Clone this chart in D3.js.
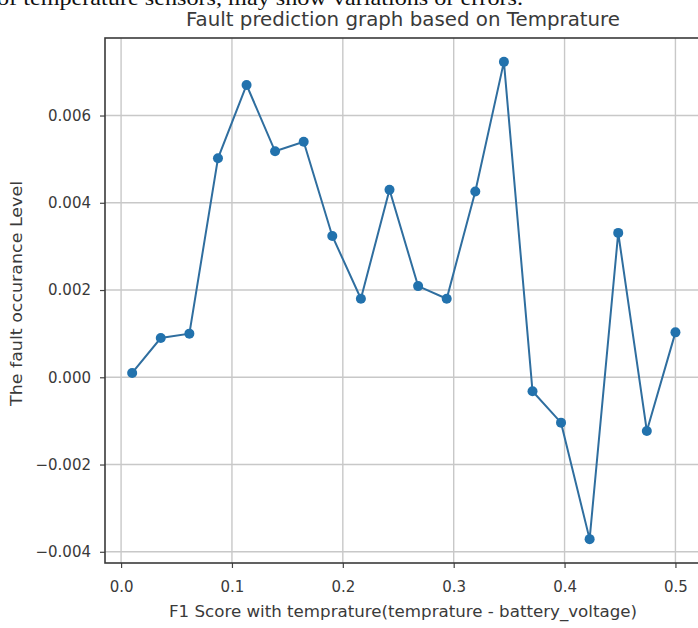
<!DOCTYPE html>
<html>
<head>
<meta charset="utf-8">
<script src="https://cdn.jsdelivr.net/npm/d3@7"></script>
<style>
  html, body { margin: 0; padding: 0; background: #fff; overflow: hidden; }
  svg { display: block; }
</style>
</head>
<body>
<svg id="chart" width="698" height="628"></svg>
<script>
// ---- data ----
const xValues = [0.01, 0.0358, 0.0616, 0.0874, 0.1132, 0.1389, 0.1647, 0.1905, 0.2163, 0.2421,
                 0.2679, 0.2937, 0.3195, 0.3453, 0.3711, 0.3968, 0.4226, 0.4484, 0.4742, 0.5];
const faultLevel = [0.0001, 0.0009, 0.0010, 0.00502, 0.0067, 0.00518, 0.0054, 0.00324, 0.0018, 0.0043,
                    0.00209, 0.0018, 0.00426, 0.00723, -0.00032, -0.00104, -0.00371, 0.00331, -0.00123, 0.00103];
const xTicks = [0.0, 0.1, 0.2, 0.3, 0.4, 0.5];
const yTicks = [-0.004, -0.002, 0.000, 0.002, 0.004, 0.006];
const titleText = "Fault prediction graph based on Temprature";
const xLabelText = "F1 Score with temprature(temprature - battery_voltage)";
const yLabelText = "The fault occurance Level";
const topCaption = "of temperature sensors, may show variations or errors.";

// ---- layout ----
const plot = { left: 105, top: 38, right: 702.6, bottom: 563 };
const svg = d3.select("#chart");

// matplotlib-like 5% margins
function padDomain(vals) {
  const [a, b] = d3.extent(vals);
  const m = (b - a) * 0.05;
  return [a - m, b + m];
}
const x = d3.scaleLinear().domain(padDomain(xValues)).range([plot.left, plot.right]);
const y = d3.scaleLinear().domain(padDomain(faultLevel)).range([plot.bottom, plot.top]);

const fontSans = "'DejaVu Sans', sans-serif";
const textColor = "#3a3a3a";

// cut-off caption from surrounding document
svg.append("text")
  .attr("x", -3).attr("y", 4.5)
  .attr("font-family", "'Liberation Serif', serif")
  .attr("font-size", 21)
  .attr("fill", "#111")
  .attr("textLength", 526).attr("lengthAdjust", "spacingAndGlyphs")
  .text(topCaption);

// grid
const grid = svg.append("g").attr("stroke", "#c8c8c8").attr("stroke-width", 1.4);
grid.selectAll("line.gx").data(xTicks).join("line")
  .attr("x1", d => x(d)).attr("x2", d => x(d))
  .attr("y1", plot.top).attr("y2", plot.bottom);
grid.selectAll("line.gy").data(yTicks).join("line")
  .attr("y1", d => y(d)).attr("y2", d => y(d))
  .attr("x1", plot.left).attr("x2", plot.right);

// axes
const fmtY = v => d3.format(".3f")(v).replace("-", "\u2212");
const xAxis = d3.axisBottom(x).tickValues(xTicks).tickFormat(d3.format(".1f")).tickSize(5).tickPadding(13);
const yAxis = d3.axisLeft(y).tickValues(yTicks).tickFormat(fmtY).tickSize(5).tickPadding(9);

const gx = svg.append("g").attr("transform", `translate(0,${plot.bottom})`).call(xAxis);
const gy = svg.append("g").attr("transform", `translate(${plot.left},0)`).call(yAxis);
[gx, gy].forEach(g => {
  g.select(".domain").remove();
  g.selectAll(".tick line").attr("stroke", "#444").attr("stroke-width", 1.2);
  g.selectAll(".tick text").attr("font-family", fontSans).attr("font-size", 15).attr("fill", textColor);
});

// frame
svg.append("rect")
  .attr("x", plot.left).attr("y", plot.top)
  .attr("width", plot.right - plot.left).attr("height", plot.bottom - plot.top)
  .attr("fill", "none").attr("stroke", "#3a3a3a").attr("stroke-width", 1.6);

// line + markers
const pts = xValues.map((v, i) => [v, faultLevel[i]]);
svg.append("path")
  .datum(pts)
  .attr("fill", "none")
  .attr("stroke", "#2f6e9f")
  .attr("stroke-width", 2)
  .attr("d", d3.line().x(d => x(d[0])).y(d => y(d[1])));
svg.append("g").selectAll("circle").data(pts).join("circle")
  .attr("cx", d => x(d[0])).attr("cy", d => y(d[1])).attr("r", 5)
  .attr("fill", "#2272ad");

// title
svg.append("text")
  .attr("x", 403).attr("y", 25.5)
  .attr("text-anchor", "middle")
  .attr("font-family", fontSans).attr("font-size", 20)
  .attr("fill", textColor)
  .attr("textLength", 434).attr("lengthAdjust", "spacingAndGlyphs")
  .text(titleText);

// x label
svg.append("text")
  .attr("x", 403).attr("y", 617)
  .attr("text-anchor", "middle")
  .attr("font-family", fontSans).attr("font-size", 16)
  .attr("fill", textColor)
  .attr("textLength", 468).attr("lengthAdjust", "spacingAndGlyphs")
  .text(xLabelText);

// y label
svg.append("text")
  .attr("transform", `translate(22,${(plot.top + plot.bottom) / 2 - 7}) rotate(-90)`)
  .attr("text-anchor", "middle")
  .attr("font-family", fontSans).attr("font-size", 16)
  .attr("fill", textColor)
  .attr("textLength", 225).attr("lengthAdjust", "spacingAndGlyphs")
  .text(yLabelText);
</script>
</body>
</html>
